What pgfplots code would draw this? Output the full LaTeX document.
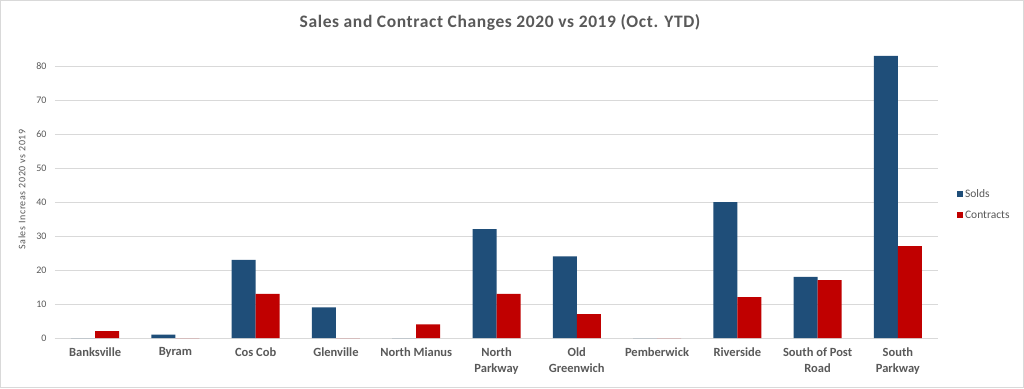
\documentclass[border=0pt]{standalone}
\usepackage{pgfplots}
\pgfplotsset{compat=1.18}
\usepackage{fontspec}
\setmainfont{Carlito}
\definecolor{solds}{HTML}{1F4E79}
\definecolor{contr}{HTML}{C00000}
\definecolor{txt}{HTML}{595959}
\definecolor{gridc}{HTML}{D9D9D9}
\begin{document}
\begin{tikzpicture}[x=1pt,y=1pt]
\path[draw=gridc,fill=white,line width=1pt] (0.5,0.5) rectangle (1023.5,387.5);
\node[text=txt,font=\fontsize{17.5}{20}\selectfont\bfseries\addfontfeature{LetterSpace=3.5}] at (500,366) {Sales and Contract Changes 2020 vs 2019 (Oct. YTD)};
\begin{axis}[
  at={(55pt,50pt)}, anchor=south west,
  scale only axis, width=883pt, height=285.6pt,
  ybar=0pt, bar width=24pt,
  xmin=-0.5, xmax=10.5, ymin=0, ymax=84,
  xtick=data,
  xticklabels={Banksville,Byram,Cos Cob,Glenville,North Mianus,{North\\Parkway},{Old\\Greenwich},Pemberwick,Riverside,{South of Post\\Road},{South\\Parkway}},
  xticklabel style={align=center,text=txt,font=\fontsize{12.5}{16}\selectfont\bfseries,yshift=-6pt},
  ytick={0,10,...,80},
  yticklabel style={text=txt,font=\fontsize{10}{11}\selectfont,xshift=-5pt},
  /pgf/number format/assume math mode=true,
  ymajorgrids, xmajorgrids=false, grid style={draw=gridc,line width=0.8pt},
  major tick length=0pt,
  axis x line*=bottom, axis y line*=left,
  x axis line style={draw=gridc,line width=1pt,-},
  y axis line style={draw=none},
  ylabel={Sales Increas 2020 vs 2019},
  ylabel style={at={(axis description cs:0,0.52)},anchor=center,yshift=33pt,text=txt,font=\fontsize{10}{11}\selectfont\addfontfeature{LetterSpace=6}},
  legend style={at={(rel axis cs:1.018,0.535)},anchor=north west,draw=none,fill=none,font=\fontsize{11.5}{13}\selectfont,text=txt,row sep=8pt},
  legend cell align=left,
  legend image code/.code={\fill (0pt,-3pt) rectangle (6pt,3pt);},
  clip=false,
]
\addplot[fill=solds,draw=none] coordinates {(0,0) (1,1) (2,23) (3,9) (4,0) (5,32) (6,24) (7,0) (8,40) (9,18) (10,83)};
\addplot[fill=contr,draw=none] coordinates {(0,2) (1,0) (2,13) (3,0) (4,4) (5,13) (6,7) (7,0) (8,12) (9,17) (10,27)};
\legend{Solds,Contracts}
\end{axis}
\end{tikzpicture}
\end{document}
